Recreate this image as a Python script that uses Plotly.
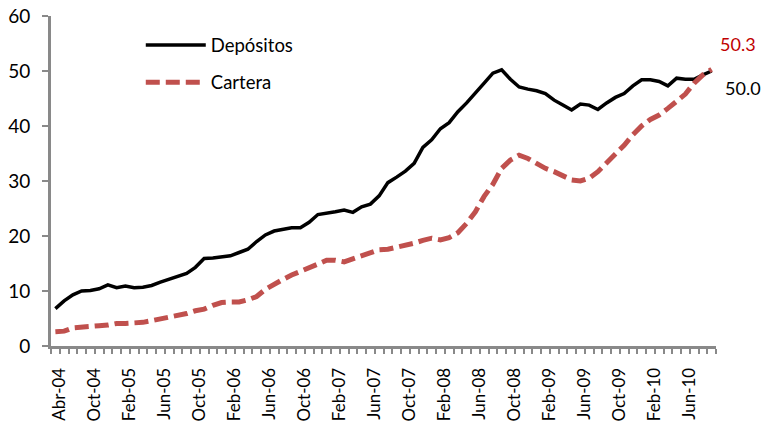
import plotly.graph_objects as go

months = [
    "Abr-04", "Jun-04", "Ago-04", "Sep-04",
    "Oct-04", "Nov-04", "Dic-04",
    "Ene-05", "Feb-05", "Mar-05", "Abr-05", "May-05", "Jun-05", "Jul-05", "Ago-05", "Sep-05", "Oct-05", "Nov-05", "Dic-05",
    "Ene-06", "Feb-06", "Mar-06", "Abr-06", "May-06", "Jun-06", "Jul-06", "Ago-06", "Sep-06", "Oct-06", "Nov-06", "Dic-06",
    "Ene-07", "Feb-07", "Mar-07", "Abr-07", "May-07", "Jun-07", "Jul-07", "Ago-07", "Sep-07", "Oct-07", "Nov-07", "Dic-07",
    "Ene-08", "Feb-08", "Mar-08", "Abr-08", "May-08", "Jun-08", "Jul-08", "Ago-08", "Sep-08", "Oct-08", "Nov-08", "Dic-08",
    "Ene-09", "Feb-09", "Mar-09", "Abr-09", "May-09", "Jun-09", "Jul-09", "Ago-09", "Sep-09", "Oct-09", "Nov-09", "Dic-09",
    "Ene-10", "Feb-10", "Mar-10", "Abr-10", "May-10", "Jun-10", "Jul-10", "Ago-10", "Sep-10",
]

depositos = [
    6.8, 8.2, 9.3, 10.0, 10.1, 10.4, 11.1, 10.6, 10.9, 10.6,
    10.7, 11.0, 11.6, 12.1, 12.6, 13.2, 14.3, 15.9, 16.0, 16.2,
    16.4, 17.0, 17.6, 19.0, 20.2, 20.9, 21.2, 21.5, 21.5, 22.5,
    23.9, 24.1, 24.4, 24.7, 24.3, 25.3, 25.8, 27.3, 29.7, 30.7,
    31.8, 33.2, 36.1, 37.5, 39.5, 40.6, 42.6, 44.2, 45.9, 47.8,
    49.6, 50.2, 48.5, 47.1, 46.7, 46.4, 45.9, 44.7, 43.8, 42.9,
    44.0, 43.8, 43.0, 44.2, 45.2, 45.9, 47.3, 48.4, 48.4, 48.1,
    47.3, 48.7, 48.5, 48.5, 49.3, 50.0,
]

cartera = [
    2.6, 2.7, 3.3, 3.5, 3.6, 3.7, 3.8, 4.1, 4.1, 4.1,
    4.3, 4.6, 4.9, 5.2, 5.5, 5.9, 6.4, 6.7, 7.4, 7.9,
    8.0, 8.0, 8.4, 9.0, 10.3, 11.3, 12.1, 12.9, 13.5, 14.1,
    14.9, 15.6, 15.6, 15.3, 15.9, 16.5, 17.1, 17.5, 17.6, 17.9,
    18.4, 18.7, 19.2, 19.6, 19.3, 19.7, 20.6, 22.3, 24.4, 27.2,
    29.4, 32.3, 33.8, 34.7, 34.1, 33.1, 32.3, 31.7, 30.9, 30.2,
    30.0, 30.5, 31.7, 33.2, 35.0, 36.5, 38.4, 40.0, 41.2, 42.0,
    43.2, 44.4, 45.8, 47.8, 49.3, 50.3,
]

tick_labels = ["Abr-04", "Oct-04", "Feb-05", "Jun-05", "Oct-05", "Feb-06", "Jun-06",
               "Oct-06", "Feb-07", "Jun-07", "Oct-07", "Feb-08", "Jun-08", "Oct-08",
               "Feb-09", "Jun-09", "Oct-09", "Feb-10", "Jun-10"]

y_ticks = [0, 10, 20, 30, 40, 50, 60]

idx = list(range(len(months)))
# labels sit slightly right of the category centre, as in the original
tickvals = [months.index(t) + 0.45 for t in tick_labels]

FONT = "Lato"
AXIS_COLOR = "#898989"

fig = go.Figure()
fig.add_trace(go.Scatter(
    x=idx, y=depositos, mode="lines", name="Depósitos",
    line=dict(color="black", width=3.5),
    legendgroup="a", customdata=months,
))
fig.add_trace(go.Scatter(
    x=idx, y=cartera, mode="lines", name="Cartera",
    line=dict(color="#C0504D", width=5, dash="14px,6px"),
    legendgroup="b", customdata=months,
))

fig.add_annotation(x=idx[-1], y=cartera[-1], text=f"{cartera[-1]:.1f}",
                   xanchor="left", yanchor="middle", xshift=6, yshift=25,
                   showarrow=False, font=dict(family=FONT, size=18, color="#C00000"))
fig.add_annotation(x=idx[-1], y=depositos[-1], text=f"{depositos[-1]:.1f}",
                   xanchor="left", yanchor="middle", xshift=11, yshift=-17,
                   showarrow=False, font=dict(family=FONT, size=18, color="black"))

fig.update_layout(
    width=765, height=425,
    margin=dict(l=51, r=49, t=16, b=79),
    paper_bgcolor="white", plot_bgcolor="white",
    font=dict(family=FONT, size=16, color="black"),
    showlegend=True,
    legend=dict(x=0.135, y=0.968, xanchor="left", yanchor="top",
                bgcolor="rgba(0,0,0,0)", font=dict(family=FONT, size=18.5, color="black"),
                tracegroupgap=10, traceorder="grouped", itemwidth=60),
    xaxis=dict(
        range=[-0.5, len(months) - 0.5], automargin=False,
        tickmode="array", tickvals=tickvals, ticktext=tick_labels,
        tickangle=-90, ticks="outside", ticklen=12, tickcolor="rgba(0,0,0,0)",
        showline=True, linecolor=AXIS_COLOR, linewidth=3,
        showgrid=False, zeroline=False,
        minor=dict(tickmode="linear", tick0=-0.5, dtick=1, ticks="outside",
                   ticklen=5, tickwidth=1.5, tickcolor=AXIS_COLOR, showgrid=False),
        tickfont=dict(family=FONT, size=17, color="black"),
    ),
    yaxis=dict(
        range=[0, 60], automargin=False, tickmode="array", tickvals=y_ticks,
        ticks="outside", ticklen=6, tickwidth=2, tickcolor=AXIS_COLOR,
        ticklabelstandoff=8,
        showline=True, linecolor=AXIS_COLOR, linewidth=3,
        showgrid=False, zeroline=False,
        tickfont=dict(family=FONT, size=19, color="black"),
    ),
)

fig.write_html(
    "out.html",
    config={"displayModeBar": False},
    post_script="document.body.style.margin='0';document.body.style.padding='0';document.body.style.overflow='hidden';",
)
